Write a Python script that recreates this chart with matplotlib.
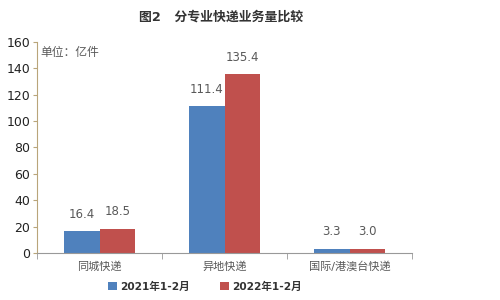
import matplotlib
matplotlib.use("Agg")
import matplotlib.pyplot as plt
import numpy as np

plt.rcParams['font.family'] = ['DejaVu Sans', 'Noto Sans CJK SC']

categories = ["同城快递", "异地快递", "国际/港澳台快递"]
series_names = ["2021年1-2月", "2022年1-2月"]
values_2021 = [16.4, 111.4, 3.3]
values_2022 = [18.5, 135.4, 3.0]
yticks = [0, 20, 40, 60, 80, 100, 120, 140, 160]

colors = ["#4f81bd", "#c0504d"]
txt = "#595959"

fig = plt.figure(figsize=(5, 3), dpi=100)
ax = fig.add_axes([0.074, 0.157, 0.75, 0.703])

x = np.arange(len(categories))
w = 0.285
b1 = ax.bar(x - w/2, values_2021, w, color=colors[0], label=series_names[0])
b2 = ax.bar(x + w/2, values_2022, w, color=colors[1], label=series_names[1])

for bars, vals in ((b1, values_2021), (b2, values_2022)):
    for rect, v in zip(bars, vals):
        ax.text(rect.get_x() + rect.get_width()/2, v + 8, f"{v:.1f}",
                ha="center", va="bottom", fontsize=8.5, color=txt)

ax.set_xlim(-0.5, len(categories) - 0.5)
ax.set_ylim(0, 160)
ax.set_yticks(yticks)
ax.tick_params(axis="y", labelsize=9, length=3, color="#b9a57a", pad=2, labelcolor="#222222")
ax.set_xticks(x)
ax.set_xticklabels(categories, fontsize=8, color=txt)
ax.set_xticks(np.arange(len(categories) + 1) - 0.5, minor=True)
ax.tick_params(axis="x", which="major", length=0, pad=6)
ax.tick_params(axis="x", which="minor", length=4, color="#999999")

for s in ("top", "right"):
    ax.spines[s].set_visible(False)
ax.spines["left"].set_color("#b9a57a")
ax.spines["bottom"].set_color("#999999")

ax.text(0.01, 0.98, "单位：亿件", transform=ax.transAxes, fontsize=8.5,
        color=txt, va="top", ha="left")

fig.text(0.443, 0.943, "图2   分专业快递业务量比较", ha="center", va="center",
         fontsize=9.3, fontweight="bold", color="#333333")

fig.legend(handles=[b1, b2], labels=series_names, loc="center",
           bbox_to_anchor=(0.41, 0.045), ncol=2, frameon=False,
           prop={"size": 7.6, "weight": "bold"}, handlelength=0.8, handleheight=0.8,
           columnspacing=2.9, handletextpad=0.3, labelcolor="#333333")

fig.savefig("out.png", dpi=100)
